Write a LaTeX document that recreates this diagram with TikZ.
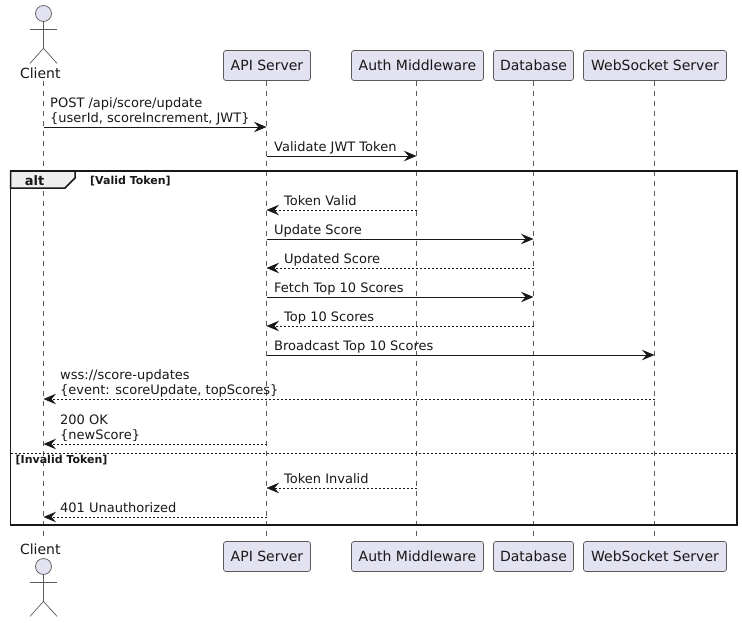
\documentclass[tikz,border=0pt]{standalone}
\usepackage{fontspec}
\setmainfont{DejaVu Sans}
\usetikzlibrary{arrows.meta,calc}
\definecolor{ink}{HTML}{181818}
\definecolor{soft}{HTML}{5A5A5A}
\definecolor{partfill}{HTML}{E2E2F0}
\definecolor{tabfill}{HTML}{EEEEEE}
\tikzset{
  x=1pt,y=-1pt,
  participant/.style={draw=soft,line width=0.7pt,fill=partfill,rounded corners=2.5pt,minimum height=30pt,inner sep=0pt,text=ink,font=\fontsize{14}{16}\selectfont},
  actorshape/.style={draw=soft,line width=0.7pt},
  actorhead/.style={circle,draw=soft,line width=0.7pt,fill=partfill,minimum size=16pt,inner sep=0pt},
  actorlabel/.style={anchor=base,inner sep=0pt,text=ink,font=\fontsize{14}{16}\selectfont},
  lifeline/.style={draw=soft,line width=0.6pt,dash pattern=on 5pt off 5pt},
  sync/.style={draw=ink,line width=1pt,-{Stealth[length=12.5pt,width=10.5pt,inset=4.5pt,color=ink]}},
  reply/.style={draw=ink,line width=0.8pt,dash pattern=on 2pt off 2pt,-{Stealth[length=12.5pt,width=10.5pt,inset=4.5pt,color=ink,sep=0pt]}},
  msg/.style={anchor=base west,inner sep=0pt,align=left,text=ink,font=\fontsize{13}{15.1}\selectfont},
  framebox/.style={draw=ink,line width=1.5pt},
  guard/.style={anchor=base west,inner sep=0pt,text=ink,font=\fontsize{11}{13}\bfseries\selectfont},
}
\newcommand{\actorfig}[2]{%
  \node[actorhead] (head#1) at (43.5,#2) {};
  \draw[actorshape] (head#1.south) -- ++(0,26.5) coordinate (hip#1) -- ++(-13.5,15) coordinate (legl#1);
  \draw[actorshape] (hip#1) -- ++(13.5,15) coordinate (legr#1);
  \draw[actorshape] ($(head#1.south)+(-13.5,7.5)$) -- ++(27,0);
}
\begin{document}
\begin{tikzpicture}
\useasboundingbox (0,0) rectangle (742,622);
\fill[white] (0,0) rectangle (742,622);
% lifeline ends
\coordinate (cl) at (43.5,81);
\coordinate (clb) at (43.5,536);
% participants
\node[participant,minimum width=87pt] (api) at (267,65.5) {API Server};
\node[participant,minimum width=132pt] (auth) at (417.5,65.5) {Auth Middleware};
\node[participant,minimum width=80pt] (db) at (533.5,65.5) {Database};
\node[participant,minimum width=143pt] (ws) at (655,65.5) {WebSocket Server};
\node[participant,minimum width=87pt] (apib) at (267,556.5) {API Server};
\node[participant,minimum width=132pt] (authb) at (417.5,556.5) {Auth Middleware};
\node[participant,minimum width=80pt] (dbb) at (533.5,556.5) {Database};
\node[participant,minimum width=143pt] (wsb) at (655,556.5) {WebSocket Server};
\coordinate (al) at (266.5,80.5);
\coordinate (alb) at (266.5,541.5);
\coordinate (ml) at (416.5,80.5);
\coordinate (mlb) at (416.5,541.5);
\coordinate (dl) at (533.5,80.5);
\coordinate (dlb) at (533.5,541.5);
\coordinate (wl) at (654.5,80.5);
\coordinate (wlb) at (654.5,541.5);
% lifelines
\draw[lifeline] (cl) -- (clb);
\draw[lifeline] (al) -- (alb);
\draw[lifeline] (ml) -- (mlb);
\draw[lifeline] (dl) -- (dlb);
\draw[lifeline] (wl) -- (wlb);
% actors
\actorfig{t}{13.5}
\actorfig{b}{566.5}
\node[actorlabel] (clientt) at (40.3,78) {Client};
\node[actorlabel] (clientb) at (40.3,554) {Client};
% alt frame
\draw[framebox] (10.5,171) rectangle (737,525);
\draw[line width=1.5pt,draw=ink,fill=tabfill] (10.5,171) -- (75,171) -- (75,178) -- (65,188) -- (10.5,188) -- cycle;
\node[anchor=base,inner sep=0pt,text=ink,font=\fontsize{13}{15}\bfseries\selectfont] (alttag) at (34.5,185) {alt};
\node[guard] (g1) at (90,184) {[Valid Token]};
\draw[draw=ink,line width=1pt,dash pattern=on 2pt off 2pt] (10.5,453.5) -- (737,453.5);
\node[guard] (g2) at (15.5,463) {[Invalid Token]};
% messages
\draw[sync] (cl |- 0,127) -- (al |- 0,127);
\node[msg] (m1) at (50,122.5) {POST /api/score/update\\\{userId, scoreIncrement, JWT\}};
\draw[sync] (al |- 0,156) -- (ml |- 0,156);
\node[msg] (m2) at (274,151.5) {Validate JWT Token};
\draw[reply] (ml |- 0,210) -- (al |- 0,210);
\node[msg] (m3) at (284,205.5) {Token Valid};
\draw[sync] (al |- 0,239) -- (dl |- 0,239);
\node[msg] (m4) at (274,234.5) {Update Score};
\draw[reply] (dl |- 0,268) -- (al |- 0,268);
\node[msg] (m5) at (284,263.5) {Updated Score};
\draw[sync] (al |- 0,297) -- (dl |- 0,297);
\node[msg] (m6) at (274,292.5) {Fetch Top 10 Scores};
\draw[reply] (dl |- 0,326) -- (al |- 0,326);
\node[msg] (m7) at (284,321.5) {Top 10 Scores};
\draw[sync] (al |- 0,355) -- (wl |- 0,355);
\node[msg] (m8) at (274,350.5) {Broadcast Top 10 Scores};
\draw[reply] (wl |- 0,399) -- (cl |- 0,399);
\node[msg] (m9) at (60,394.5) {wss://score-updates\\\{event: scoreUpdate, topScores\}};
\draw[reply] (al |- 0,444) -- (cl |- 0,444);
\node[msg] (m10) at (60,439.5) {200 OK\\\{newScore\}};
\draw[reply] (ml |- 0,488) -- (al |- 0,488);
\node[msg] (m11) at (284,483.5) {Token Invalid};
\draw[reply] (al |- 0,517) -- (cl |- 0,517);
\node[msg] (m12) at (60,512.5) {401 Unauthorized};
\end{tikzpicture}
\end{document}
